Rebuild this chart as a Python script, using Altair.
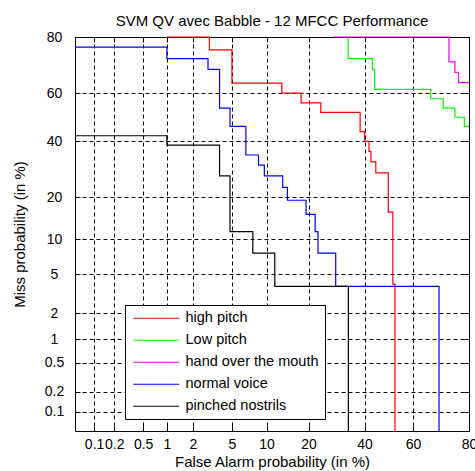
import altair as alt
import pandas as pd
from statistics import NormalDist

ND = NormalDist()


def probit(pct):
    return ND.inv_cdf(pct / 100.0)


title_text = "SVM QV avec Babble - 12 MFCC Performance"
x_title = "False Alarm probability (in %)"
y_title = "Miss probability (in %)"

series_names = ["high pitch", "Low pitch", "hand over the mouth", "normal voice", "pinched nostrils"]
series_colors = ["#ff0000", "#00ff00", "#ff00ff", "#0000ff", "#000000"]

# step curves (false alarm %, miss %), step-after
high_fa = [1.0, 3.0, 5.0, 13.1, 17.9, 23.8, 38.2, 40.0, 41.8, 42.6, 44.6, 49.8, 51.7, 52.6]
high_miss = [80, 76, 64, 60, 56, 52, 44, 40, 36, 32, 28, 16, 4, 0.05]
low_fa = [33.5, 33.5, 43.2, 44.1, 67.0, 71.6, 75.6, 78.6, 80.0]
low_miss = [80, 73.1, 69.2, 61.5, 57.7, 53.8, 50.0, 46.2, 46.2]
hand_fa = [28.3, 73.6, 75.6, 76.8, 80.0]
hand_miss = [80, 71.9, 68.1, 64.2, 64.2]
normal_fa = [0.05, 1.0, 2.9, 3.8, 4.8, 6.7, 8.6, 9.6, 13.3, 14.4, 19.3, 22.0, 22.9, 28.9, 70.1]
normal_miss = [76.9, 73.1, 69.2, 53.8, 46.2, 34.6, 30.8, 26.9, 23.1, 19.2, 15.4, 11.5, 7.7, 3.8, 0.05]
pinched_fa = [0.05, 1.0, 3.8, 4.8, 7.7, 11.6, 33.6]
pinched_miss = [42.3, 38.5, 26.9, 11.5, 7.7, 3.8, 0.05]

tick_values = [0.1, 0.2, 0.5, 1, 2, 5, 10, 20, 40, 60, 80]
tick_labels = ["0.1", "0.2", "0.5", "1", "2", "5", "10", "20", "40", "60", "80"]
axis_min, axis_max = 0.05, 80.0

rows = []
for name, fa, miss in zip(
    series_names,
    [high_fa, low_fa, hand_fa, normal_fa, pinched_fa],
    [high_miss, low_miss, hand_miss, normal_miss, pinched_miss],
):
    for i, (f, m) in enumerate(zip(fa, miss)):
        rows.append({"series": name, "idx": i, "fa": probit(f), "miss": probit(m)})
df = pd.DataFrame(rows)

ticks_p = [probit(v) for v in tick_values]
label_expr = "''"
for v, lab in reversed(list(zip(ticks_p, tick_labels))):
    label_expr = f"abs(datum.value - ({v:.8f})) < 0.000001 ? '{lab}' : ({label_expr})"

dom = [probit(axis_min), probit(axis_max)]
FONT = "Liberation Sans"

xs = alt.Scale(domain=dom, nice=False, zero=False)
ys = alt.Scale(domain=dom, nice=False, zero=False)

common_lab = dict(labelFont=FONT, labelFontSize=14, labelColor="black", labelOverlap=False,
                  labelFlush=False)

x_main = alt.Axis(orient="bottom", values=ticks_p, labelExpr=label_expr, grid=True,
                  gridDash=[4, 3], gridColor="black", gridOpacity=1, gridWidth=1,
                  ticks=False, tickSize=0, domain=False, labelPadding=6,
                  title=x_title, titleFont=FONT, titleFontSize=15, titleFontWeight="normal",
                  titleColor="black", titlePadding=3, **common_lab)
y_main = alt.Axis(orient="left", values=ticks_p, labelExpr=label_expr, grid=True,
                  gridDash=[4, 3], gridColor="black", gridOpacity=1, gridWidth=1,
                  ticks=False, tickSize=0, domain=False, labelPadding=21, labelAlign="center",
                  title=y_title, titleFont=FONT, titleFontSize=15, titleFontWeight="normal",
                  titleColor="black", titlePadding=17, **common_lab)


def tick_axis(orient):
    return alt.Axis(orient=orient, values=ticks_p, offset=-5, tickSize=5, ticks=True,
                    tickColor="black", tickWidth=1, labels=False, grid=False, domain=False,
                    title="")


lines = alt.Chart(df).mark_line(interpolate="step-after", strokeWidth=1.2).encode(
    x=alt.X("fa:Q", scale=xs, axis=x_main),
    y=alt.Y("miss:Q", scale=ys, axis=y_main),
    color=alt.Color("series:N", sort=series_names,
                    scale=alt.Scale(domain=series_names, range=series_colors),
                    legend=alt.Legend(title=None, orient="none", legendX=50, legendY=268,
                                      symbolType="M-4,0H4", symbolSize=132,
                                      symbolStrokeWidth=1, symbolOffset=18,
                                      labelFont=FONT, labelFontSize=14.5,
                                      labelColor="black", strokeColor="black",
                                      fillColor="white", padding=6, rowPadding=7,
                                      labelOffset=22)),
    order=alt.Order("idx:Q"),
    detail="series:N",
)

ticks_bl = alt.Chart(df).mark_line(strokeOpacity=0).encode(
    x=alt.X("fa:Q", scale=xs, axis=tick_axis("bottom")),
    y=alt.Y("miss:Q", scale=ys, axis=tick_axis("left")),
    detail="series:N",
)
ticks_tr = alt.Chart(df).mark_line(strokeOpacity=0).encode(
    x=alt.X("fa:Q", scale=xs, axis=tick_axis("top")),
    y=alt.Y("miss:Q", scale=ys, axis=tick_axis("right")),
    detail="series:N",
)

chart = alt.layer(lines, ticks_bl, ticks_tr).resolve_axis(
    x="independent", y="independent"
).properties(
    width=394,
    height=394,
    padding={"left": 75, "top": 37, "right": 6, "bottom": 40},
    autosize=alt.AutoSizeParams(type="none"),
    title=alt.Title(title_text, font=FONT, fontSize=15, fontWeight="normal", color="black",
                    anchor="middle", offset=-11, baseline="alphabetic"),
    background="white",
).configure_view(stroke="black", strokeWidth=1)

chart.save("out.html", embed_options={"renderer": "svg", "actions": False})
